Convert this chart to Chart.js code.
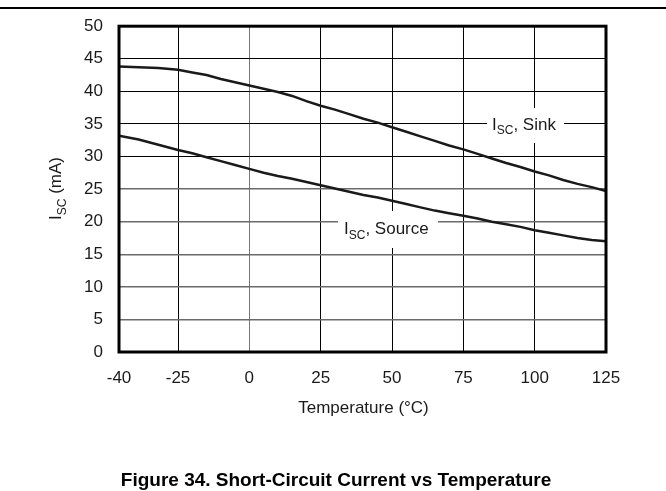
<!DOCTYPE html>
<html>
<head>
<meta charset="utf-8">
<title>Short-Circuit Current vs Temperature</title>
<script src="https://cdn.jsdelivr.net/npm/chart.js@4.4.0/dist/chart.umd.min.js"></script>
<style>
	html, body { margin: 0; padding: 0; background: #fff; }
	#wrap { width: 666px; height: 491px; }
</style>
</head>
<body>
<div id="wrap"><canvas id="isc-chart" width="666" height="491"></canvas></div>
<script>
// temperature in °C
var temps = [-40, -35, -30, -25, -20, -15, -10, -5, 0, 5, 10, 15, 20, 25, 30, 35, 40, 45,
	50, 55, 60, 65, 70, 75, 80, 85, 90, 95, 100, 105, 110, 115, 120, 125];

// short-circuit current, sinking (mA)
var sinkCurrent = [43.8, 43.7, 43.6, 43.3, 42.9, 42.5, 41.9, 41.4, 40.9, 40.4, 39.9, 39.3, 38.5, 37.8, 37.2, 36.5, 35.8, 35.2,
	34.5, 33.8, 33.1, 32.4, 31.7, 31.1, 30.4, 29.7, 29.0, 28.4, 27.7, 27.1, 26.4, 25.8, 25.3, 24.7];

// short-circuit current, sourcing (mA)
var sourceCurrent = [33.2, 32.6, 31.8, 31.0, 30.5, 29.9, 29.3, 28.7, 28.1, 27.5, 27.0, 26.6, 26.1, 25.6, 25.1, 24.6, 24.1, 23.7,
	23.2, 22.7, 22.2, 21.7, 21.3, 20.9, 20.5, 20.0, 19.6, 19.2, 18.7, 18.3, 17.9, 17.5, 17.2, 17.0];

var xTickValues = [-40, -25, 0, 25, 50, 75, 100, 125];
var yTickValues = [0, 5, 10, 15, 20, 25, 30, 35, 40, 45, 50];

var FONT = '"Liberation Sans", Arial, sans-serif';

// temperature axis: -40..-25 gets a shorter piece, linear from -25 upwards
var LEFT_PART = 59 / 487;

class TempScale extends Chart.LinearScale {
	getPixelForValue(value) {
		if (value === null || value === undefined) {
			return NaN;
		}
		var d;
		if (value <= -25) {
			d = LEFT_PART * (value + 40) / 15;
		} else {
			d = LEFT_PART + (1 - LEFT_PART) * (value + 25) / 150;
		}
		return this.getPixelForDecimal(d);
	}
	getValueForPixel(pixel) {
		var d = this.getDecimalForPixel(pixel);
		if (d <= LEFT_PART) {
			return -40 + 15 * d / LEFT_PART;
		}
		return -25 + 150 * (d - LEFT_PART) / (1 - LEFT_PART);
	}
}
TempScale.id = 'tempscale';
TempScale.defaults = Chart.LinearScale.defaults;
Chart.register(TempScale);

function toPoints(values) {
	return temps.map(function (t, i) {
		return { x: t, y: values[i] };
	});
}

// "I" with a subscript "SC", then the rest of the text
function drawIsc(ctx, x, y, rest) {
	ctx.font = '17px ' + FONT;
	ctx.fillText('I', x, y);
	x += ctx.measureText('I').width;
	ctx.font = '12px ' + FONT;
	ctx.fillText('SC', x, y + 4.5);
	x += ctx.measureText('SC').width;
	ctx.font = '17px ' + FONT;
	ctx.fillText(rest, x, y);
}

function iscWidth(ctx, rest) {
	ctx.font = '17px ' + FONT;
	var w = ctx.measureText('I').width + ctx.measureText(rest).width;
	ctx.font = '12px ' + FONT;
	return w + ctx.measureText('SC').width;
}

var decorPlugin = {
	id: 'iscDecor',
	// curve labels sit on white patches over the grid
	beforeDatasetsDraw: function (chart) {
		var ctx = chart.ctx;
		ctx.save();
		ctx.fillStyle = '#fff';
		ctx.fillRect(487, 108, 77, 35);
		ctx.fillRect(338, 211, 100, 37);
		ctx.fillStyle = '#1a1a1a';
		ctx.textAlign = 'left';
		ctx.textBaseline = 'alphabetic';
		drawIsc(ctx, 492, 129.5, ', Sink');
		drawIsc(ctx, 344, 234, ', Source');
		ctx.restore();
	},
	// heavy frame round the plot
	afterDatasetsDraw: function (chart) {
		var a = chart.chartArea;
		var ctx = chart.ctx;
		ctx.save();
		ctx.strokeStyle = '#000';
		ctx.lineWidth = 3;
		ctx.strokeRect(a.left, a.top, a.right - a.left, a.bottom - a.top);
		ctx.restore();
	},
	afterDraw: function (chart) {
		var ctx = chart.ctx;
		var a = chart.chartArea;
		ctx.save();

		// rule across the top of the page
		ctx.fillStyle = '#000';
		ctx.fillRect(0, 7, chart.width, 2);

		ctx.fillStyle = '#1a1a1a';
		ctx.textBaseline = 'alphabetic';

		// x axis title
		ctx.font = '17px ' + FONT;
		ctx.textAlign = 'center';
		ctx.fillText('Temperature (°C)', (a.left + a.right) / 2 + 1, 413);

		// y axis title, rotated
		var w = iscWidth(ctx, ' (mA)');
		ctx.save();
		ctx.translate(61, 188.5 + w / 2);
		ctx.rotate(-Math.PI / 2);
		ctx.textAlign = 'left';
		drawIsc(ctx, 0, 0, ' (mA)');
		ctx.restore();

		// figure caption
		ctx.fillStyle = '#000';
		ctx.font = 'bold 19px ' + FONT;
		ctx.textAlign = 'center';
		ctx.fillText('Figure 34. Short-Circuit Current vs Temperature', 336, 486);

		ctx.restore();
	}
};

var ctx1 = document.getElementById('isc-chart');

var iscData = {
	datasets: [
		{
			label: 'ISC, Sink',
			data: toPoints(sinkCurrent),
			borderColor: '#1a1a1a',
			borderWidth: 2.5,
			pointRadius: 0,
			fill: false,
			tension: 0
		},
		{
			label: 'ISC, Source',
			data: toPoints(sourceCurrent),
			borderColor: '#1a1a1a',
			borderWidth: 2.5,
			pointRadius: 0,
			fill: false,
			tension: 0
		}
	]
};

var iscOptions = {
	responsive: false,
	animation: false,
	events: [],
	layout: {
		padding: { left: 0, top: 22, right: 60, bottom: 0 }
	},
	plugins: {
		legend: { display: false },
		tooltip: { enabled: false },
		title: { display: false }
	},
	scales: {
		x: {
			type: 'tempscale',
			min: -40,
			max: 125,
			border: { display: false },
			grid: {
				drawTicks: false,
				lineWidth: 1,
				color: function (c) {
					return c.tick && c.tick.value === 0 ? '#777' : '#000';
				}
			},
			ticks: {
				autoSkip: false,
				maxRotation: 0,
				padding: 16,
				color: '#1a1a1a',
				font: { family: FONT, size: 17 },
				callback: function (v) { return String(v); }
			},
			afterBuildTicks: function (scale) {
				scale.ticks = xTickValues.map(function (v) { return { value: v }; });
			},
			afterFit: function (scale) {
				scale.height = 139;
			}
		},
		y: {
			min: 0,
			max: 50,
			border: { display: false },
			grid: {
				drawTicks: false,
				color: function (c) {
					return c.tick && c.tick.value >= 30 ? '#000' : '#6a6a6a';
				},
				lineWidth: function (c) {
					return c.tick && c.tick.value >= 30 ? 1 : 1.5;
				}
			},
			ticks: {
				padding: 16,
				color: '#1a1a1a',
				font: { family: FONT, size: 17 },
				callback: function (v) { return String(v); }
			},
			afterBuildTicks: function (scale) {
				scale.ticks = yTickValues.map(function (v) { return { value: v }; });
			},
			afterFit: function (scale) {
				scale.width = 119;
			}
		}
	}
};

var chart1 = new Chart(ctx1, {
	type: 'line',
	data: iscData,
	options: iscOptions,
	plugins: [decorPlugin]
});
</script>
</body>
</html>
